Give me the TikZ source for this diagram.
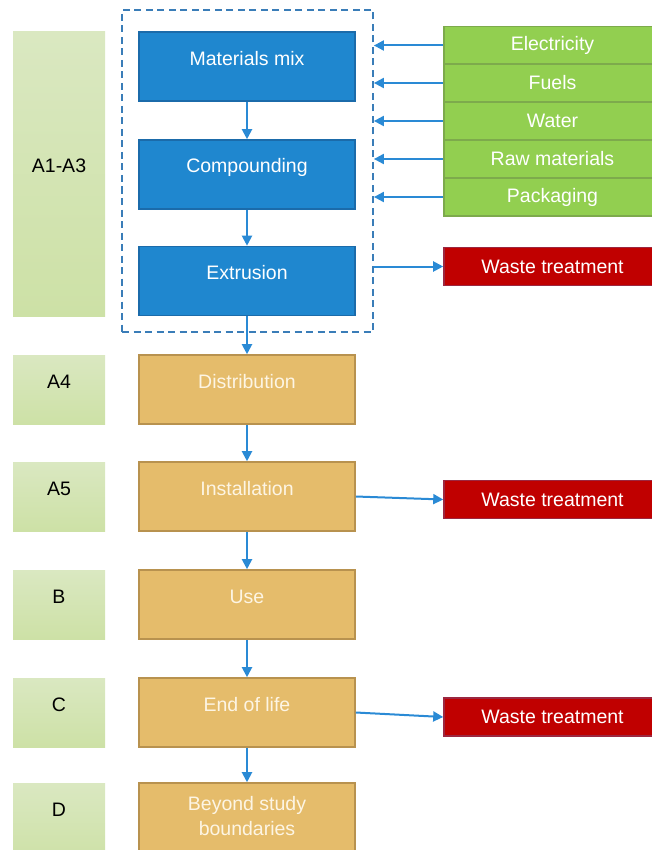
\documentclass[tikz,border=0pt]{standalone}
\usepackage{fontspec}
\setmainfont{Liberation Sans}
\usetikzlibrary{arrows.meta}
\definecolor{bluefill}{HTML}{1F87CF}
\definecolor{blueedge}{HTML}{1B6BAA}
\definecolor{orfill}{HTML}{E5BC6B}
\definecolor{oredge}{HTML}{B8924F}
\definecolor{ortext}{HTML}{FDF5E4}
\definecolor{gfill}{HTML}{92CF50}
\definecolor{gedge}{HTML}{7DAA4C}
\definecolor{rfill}{HTML}{C00000}
\definecolor{redge}{HTML}{9C2740}
\definecolor{lgtop}{HTML}{DAE8C1}
\definecolor{lgbot}{HTML}{CDE1A6}
\definecolor{arr}{HTML}{2A8AD5}
\definecolor{dash}{HTML}{3A7DB8}
\tikzset{
  txt/.style={font=\fontsize{19.5}{25}\selectfont},
  stage/.style={rectangle, minimum width=216pt, minimum height=69pt, line width=1.6pt, inner sep=0pt},
  bluebox/.style={stage, fill=bluefill, draw=blueedge},
  orbox/.style={stage, fill=orfill, draw=oredge},
  wlbl/.style={txt, text=white},
  olbl/.style={txt, text=ortext},
  phase/.style={rectangle, minimum width=92pt, minimum height=69pt, inner sep=0pt, top color=lgtop, bottom color=lgbot, draw=none},
  plbl/.style={txt, text=black},
  inbox/.style={rectangle, minimum width=217pt, minimum height=38pt, fill=gfill, draw=gedge, line width=1.6pt, txt, text=white, inner sep=0pt},
  wastebox/.style={rectangle, minimum width=217pt, minimum height=38pt, fill=rfill, draw=redge, line width=1.6pt, txt, text=white, inner sep=0pt},
  flow/.style={draw=arr, line width=2pt, -{Triangle[length=10pt,width=10pt]}},
  boundary/.style={draw=dash, line width=1.8pt, dash pattern=on 7pt off 4.5pt, rectangle, inner sep=0pt}
}
\begin{document}
\begin{tikzpicture}[x=1pt,y=-1pt]
\useasboundingbox (0,0) rectangle (652,850);
\clip (0,0) rectangle (652,850);

% phase labels
\node[phase, minimum height=284pt] (pA13) at (59,174) {};
\node[plbl] (pA13t) at (59,166) {A1-A3};
\node[phase] (pA4) at (59,389.5) {};
\node[plbl] (pA4t) at (59,382) {A4};
\node[phase] (pA5) at (59,496.5) {};
\node[plbl] (pA5t) at (59,489) {A5};
\node[phase] (pB) at (59,604.5) {};
\node[plbl] (pBt) at (59,597) {B};
\node[phase] (pC) at (59,712.5) {};
\node[plbl] (pCt) at (59,705) {C};
\node[phase, minimum height=80pt] (pD) at (59,823) {};
\node[plbl] (pDt) at (59,810) {D};

% boundary
\node[boundary, minimum width=251pt, minimum height=322pt] (bd) at (247.5,171) {};

% blue process boxes
\node[bluebox] (mm) at (247,66.5) {};
\node[wlbl] (mmt) at (247,59) {Materials mix};
\node[bluebox] (cp) at (247,174.5) {};
\node[wlbl] (cpt) at (247,167) {Compounding};
\node[bluebox] (ex) at (247,281) {};
\node[wlbl] (ext) at (247,273) {Extrusion};

% orange boxes
\node[orbox] (di) at (247,389.5) {};
\node[olbl] (dit) at (247,382) {Distribution};
\node[orbox] (in) at (247,496.5) {};
\node[olbl] (int) at (247,489) {Installation};
\node[orbox] (us) at (247,604.5) {};
\node[olbl] (ust) at (247,597) {Use};
\node[orbox] (eo) at (247,712.5) {};
\node[olbl] (eot) at (247,705) {End of life};
\node[orbox, minimum height=80pt] (by) at (247,823) {};
\node[olbl, align=center] (byt) at (247,816.5) {Beyond study\\boundaries};

% inputs
\node[inbox] (el) at (552.5,45.5) {Electricity};
\node[inbox] (fu) at (552.5,83) {Fuels};
\node[inbox] (wa) at (552.5,121) {Water};
\node[inbox] (rm) at (552.5,159) {Raw materials};
\node[inbox] (pk) at (552.5,197) {Packaging};

% waste
\node[wastebox] (w1) at (552.5,266.5) {Waste treatment};
\node[wastebox] (w2) at (552.5,499.5) {Waste treatment};
\node[wastebox] (w3) at (552.5,717) {Waste treatment};

% input arrows
\foreach \n in {el,fu,wa,rm,pk}{
  \draw[flow] (\n.west) -- (bd.east |- \n.west);
}
% waste arrows
\draw[flow] (bd.east |- w1.west) -- (w1.west);
\draw[flow] (in.east) -- (w2.west);
\draw[flow] (eo.east) -- (w3.west);

% vertical flow
\draw[flow] (mm.south) -- (cp.north);
\draw[flow] (cp.south) -- (ex.north);
\draw[flow] (ex.south) -- (di.north);
\draw[flow] (di.south) -- (in.north);
\draw[flow] (in.south) -- (us.north);
\draw[flow] (us.south) -- (eo.north);
\draw[flow] (eo.south) -- (by.north);
\end{tikzpicture}
\end{document}
